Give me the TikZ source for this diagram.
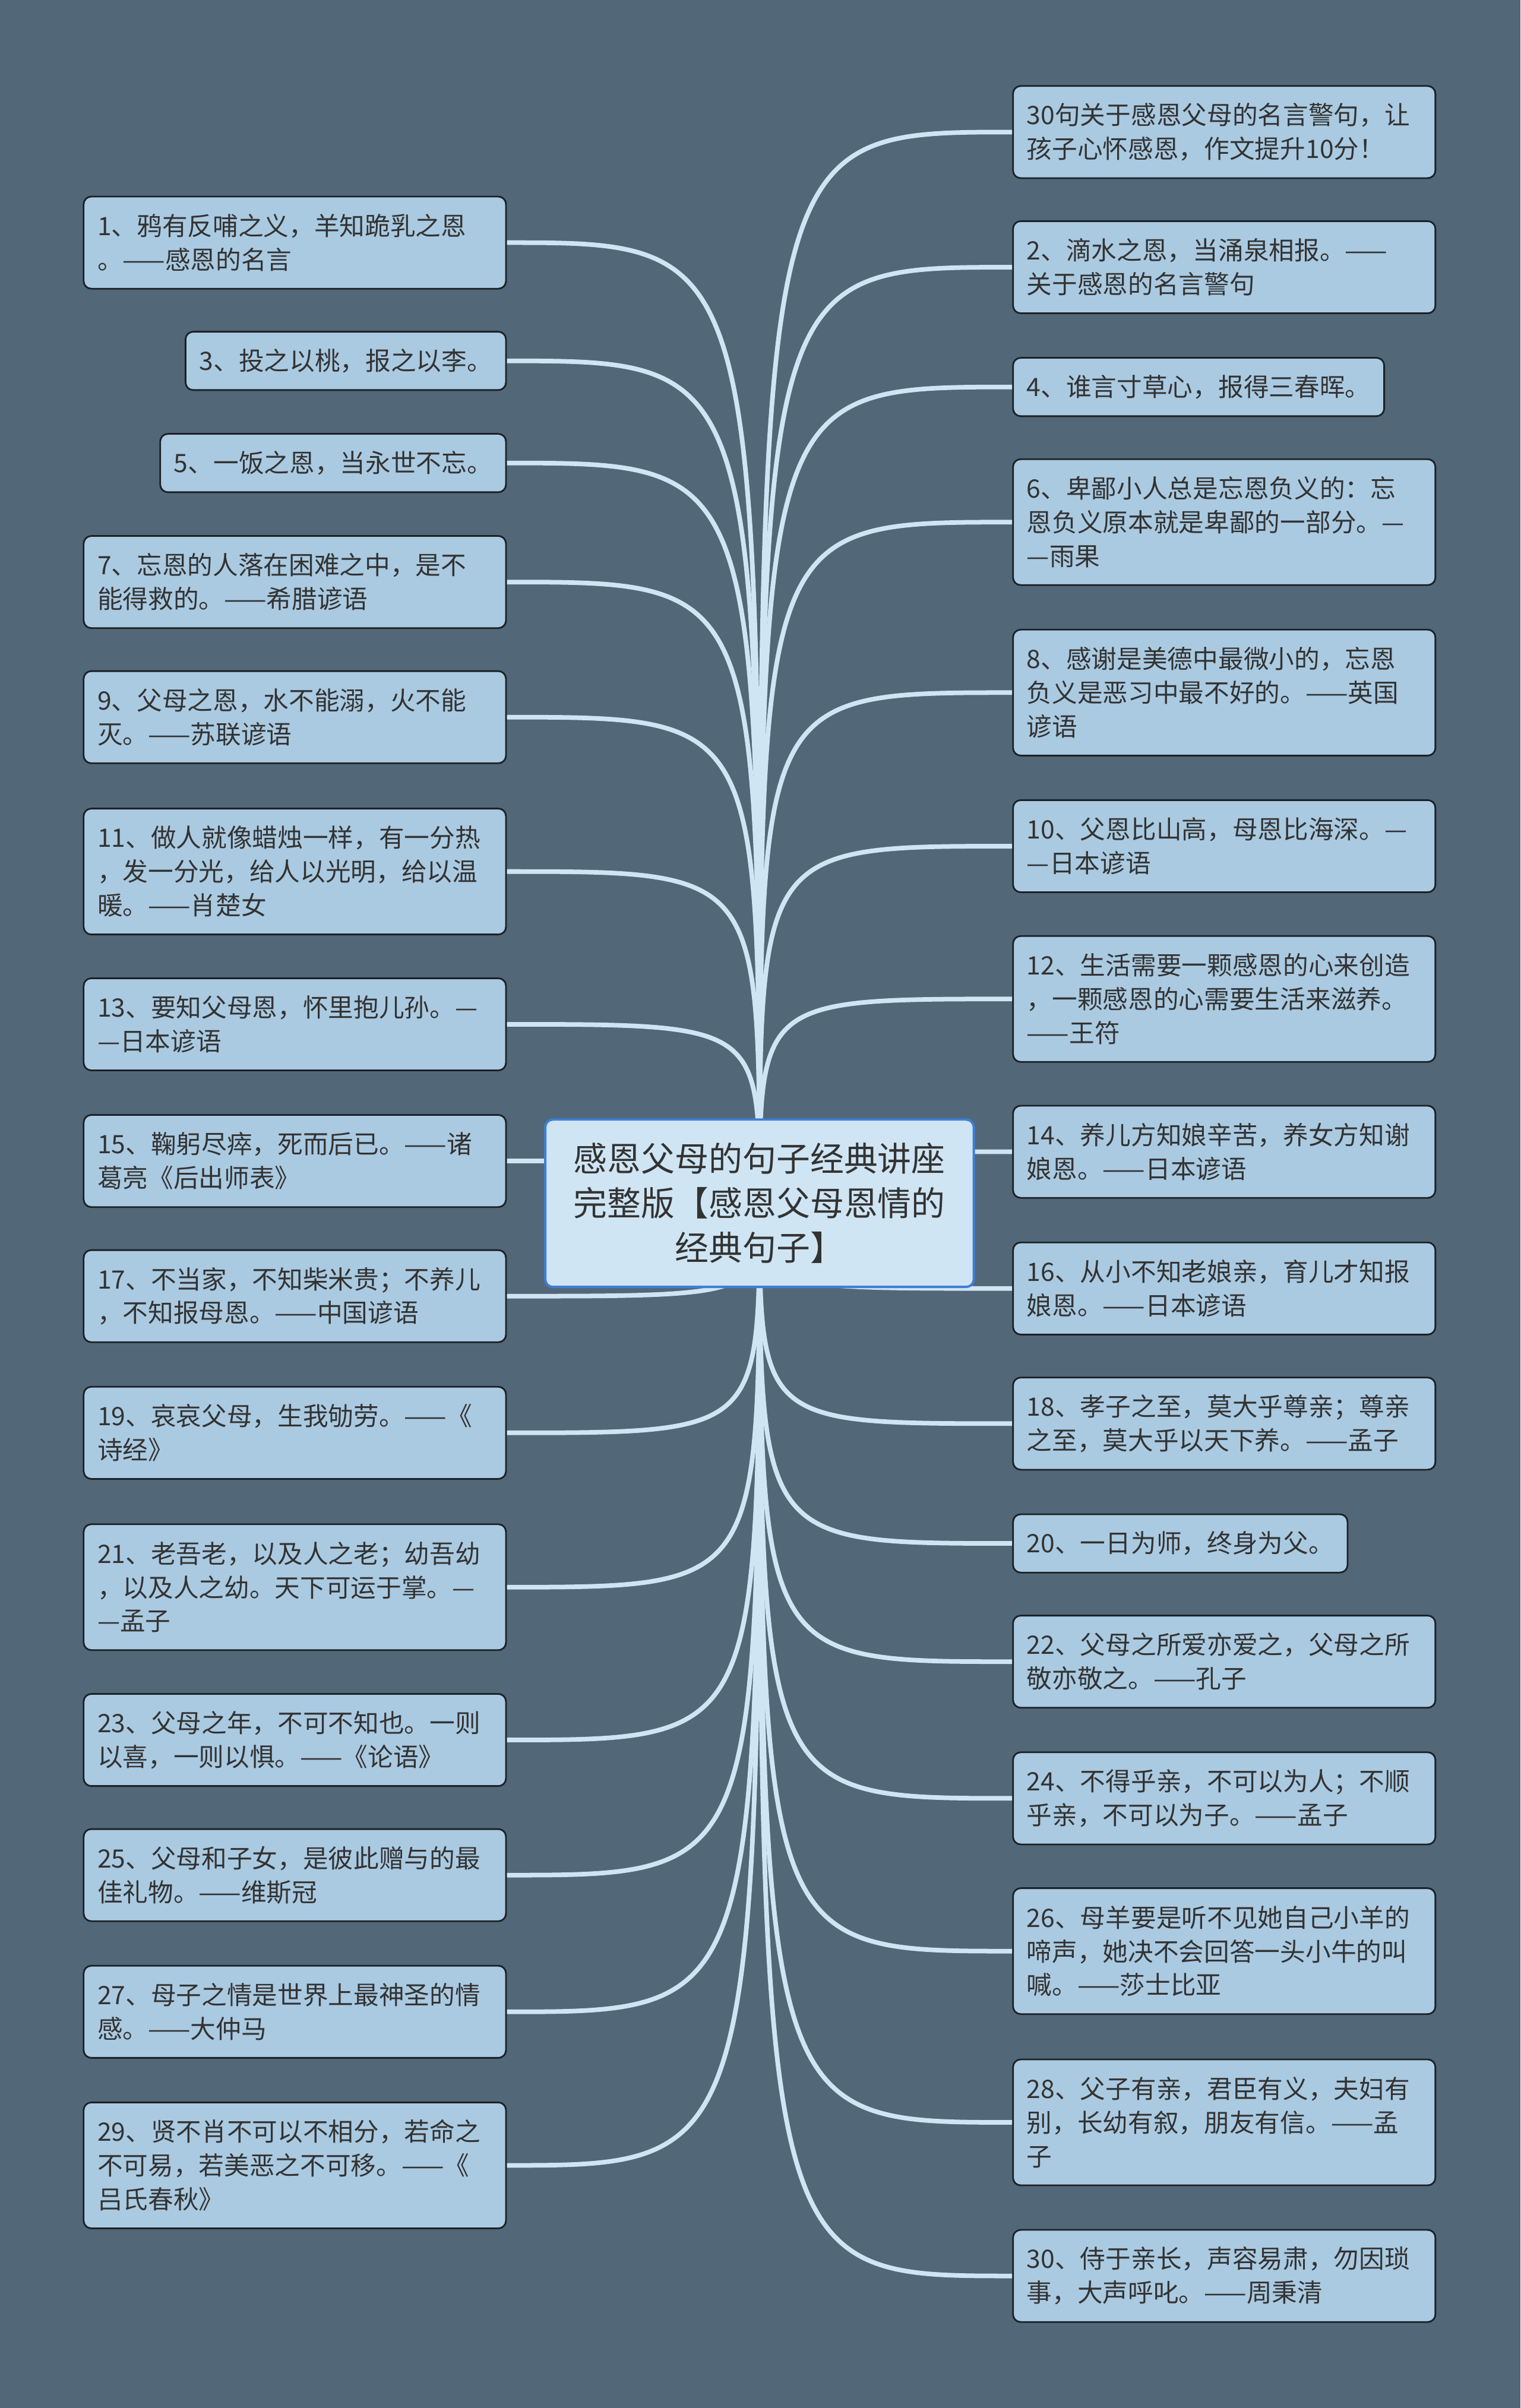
\documentclass[tikz,border=0pt]{standalone}
\usepackage{fontspec}
\newfontfamily\cjk{Noto Sans CJK SC}
\definecolor{bgc}{HTML}{526878}
\definecolor{leaffill}{HTML}{AACAE1}
\definecolor{leafline}{HTML}{1C2126}
\definecolor{cfill}{HTML}{CFE5F3}
\definecolor{cborder}{HTML}{3D7FD6}
\definecolor{connc}{HTML}{CFE5F3}
\definecolor{txt}{HTML}{333333}
\pgfdeclarelayer{edges}
\pgfsetlayers{edges,main}
\begin{document}
\begin{tikzpicture}[x=1pt,y=-1pt,
  leaf/.style={draw=leafline, line width=1.1pt, fill=leaffill, rounded corners=5pt,
    inner xsep=9pt, inner ysep=0pt, font=\cjk\fontsize{16.5}{22}\selectfont,
    text=txt, align=left},
  wide/.style={text width=257pt},
  one/.style={minimum height=38pt},
  two/.style={wide, minimum height=60pt},
  three/.style={wide, minimum height=82pt},
  lft/.style={leaf, anchor=east},
  rgt/.style={leaf, anchor=west},
  conn/.style={draw=connc, line width=3pt}]
\useasboundingbox (0,0) rectangle (990,1568);
\begin{pgfonlayer}{edges}
\fill[bgc] (0,0) rectangle (990,1568);
\end{pgfonlayer}

\node[draw=cborder, line width=1.5pt, fill=cfill, rounded corners=5pt, text width=250pt,
  align=center, inner xsep=14.5pt, inner ysep=0pt, minimum height=109pt, text=txt,
  font=\cjk\fontsize{22}{29}\selectfont] (c) at (494.5,783.5)
  {感恩父母的句子经典讲座\\完整版【感恩父母恩情的\\经典句子】};

% left column
\node[lft,two]   (L1)  at (330,158)   {1、鸦有反哺之义，羊知跪乳之恩\\。——感恩的名言};
\node[lft,one]   (L3)  at (330,235)   {3、投之以桃，报之以李。};
\node[lft,one]   (L5)  at (330,301.5) {5、一饭之恩，当永世不忘。};
\node[lft,two]   (L7)  at (330,379)   {7、忘恩的人落在困难之中，是不\\能得救的。——希腊谚语};
\node[lft,two]   (L9)  at (330,467)   {9、父母之恩，水不能溺，火不能\\灭。——苏联谚语};
\node[lft,three] (L11) at (330,567.5) {11、做人就像蜡烛一样，有一分热\\，发一分光，给人以光明，给以温\\暖。——肖楚女};
\node[lft,two]   (L13) at (330,667)   {13、要知父母恩，怀里抱儿孙。—\\—日本谚语};
\node[lft,two]   (L15) at (330,756)   {15、鞠躬尽瘁，死而后已。——诸\\葛亮《后出师表》};
\node[lft,two]   (L17) at (330,844)   {17、不当家，不知柴米贵；不养儿\\，不知报母恩。——中国谚语};
\node[lft,two]   (L19) at (330,933)   {19、哀哀父母，生我劬劳。——《\\诗经》};
\node[lft,three] (L21) at (330,1033.5){21、老吾老，以及人之老；幼吾幼\\，以及人之幼。天下可运于掌。—\\—孟子};
\node[lft,two]   (L23) at (330,1133)  {23、父母之年，不可不知也。一则\\以喜，一则以惧。——《论语》};
\node[lft,two]   (L25) at (330,1221)  {25、父母和子女，是彼此赠与的最\\佳礼物。——维斯冠};
\node[lft,two]   (L27) at (330,1310)  {27、母子之情是世界上最神圣的情\\感。——大仲马};
\node[lft,three] (L29) at (330,1410)  {29、贤不肖不可以不相分，若命之\\不可易，若美恶之不可移。——《\\吕氏春秋》};

% right column
\node[rgt,two]   (R0)  at (659,86)    {30句关于感恩父母的名言警句，让\\孩子心怀感恩，作文提升10分！};
\node[rgt,two]   (R2)  at (659,174)   {2、滴水之恩，当涌泉相报。——\\关于感恩的名言警句};
\node[rgt,one]   (R4)  at (659,252)   {4、谁言寸草心，报得三春晖。};
\node[rgt,three] (R6)  at (659,340)   {6、卑鄙小人总是忘恩负义的：忘\\恩负义原本就是卑鄙的一部分。—\\—雨果};
\node[rgt,three] (R8)  at (659,451)   {8、感谢是美德中最微小的，忘恩\\负义是恶习中最不好的。——英国\\谚语};
\node[rgt,two]   (R10) at (659,551)   {10、父恩比山高，母恩比海深。—\\—日本谚语};
\node[rgt,three] (R12) at (659,650.5) {12、生活需要一颗感恩的心来创造\\，一颗感恩的心需要生活来滋养。\\——王符};
\node[rgt,two]   (R14) at (659,750)   {14、养儿方知娘辛苦，养女方知谢\\娘恩。——日本谚语};
\node[rgt,two]   (R16) at (659,839)   {16、从小不知老娘亲，育儿才知报\\娘恩。——日本谚语};
\node[rgt,two]   (R18) at (659,927)   {18、孝子之至，莫大乎尊亲；尊亲\\之至，莫大乎以天下养。——孟子};
\node[rgt,one]   (R20) at (659,1005)  {20、一日为师，终身为父。};
\node[rgt,two]   (R22) at (659,1082)  {22、父母之所爱亦爱之，父母之所\\敬亦敬之。——孔子};
\node[rgt,two]   (R24) at (659,1171)  {24、不得乎亲，不可以为人；不顺\\乎亲，不可以为子。——孟子};
\node[rgt,three] (R26) at (659,1270.5){26、母羊要是听不见她自己小羊的\\啼声，她决不会回答一头小牛的叫\\喊。——莎士比亚};
\node[rgt,three] (R28) at (659,1382)  {28、父子有亲，君臣有义，夫妇有\\别，长幼有叙，朋友有信。——孟\\子};
\node[rgt,two]   (R30) at (659,1482)  {30、侍于亲长，声容易肃，勿因琐\\事，大声呼叱。——周秉清};

\begin{pgfonlayer}{edges}
\foreach \n in {L1,L3,L5,L7,L9,L11,L13,L15,L17,L19,L21,L23,L25,L27,L29}
  \draw[conn] (\n.east) .. controls (c.center |- \n.east) .. (c.center);
\foreach \n in {R0,R2,R4,R6,R8,R10,R12,R14,R16,R18,R20,R22,R24,R26,R28,R30}
  \draw[conn] (\n.west) .. controls (c.center |- \n.west) .. (c.center);
\end{pgfonlayer}
\end{tikzpicture}
\end{document}
